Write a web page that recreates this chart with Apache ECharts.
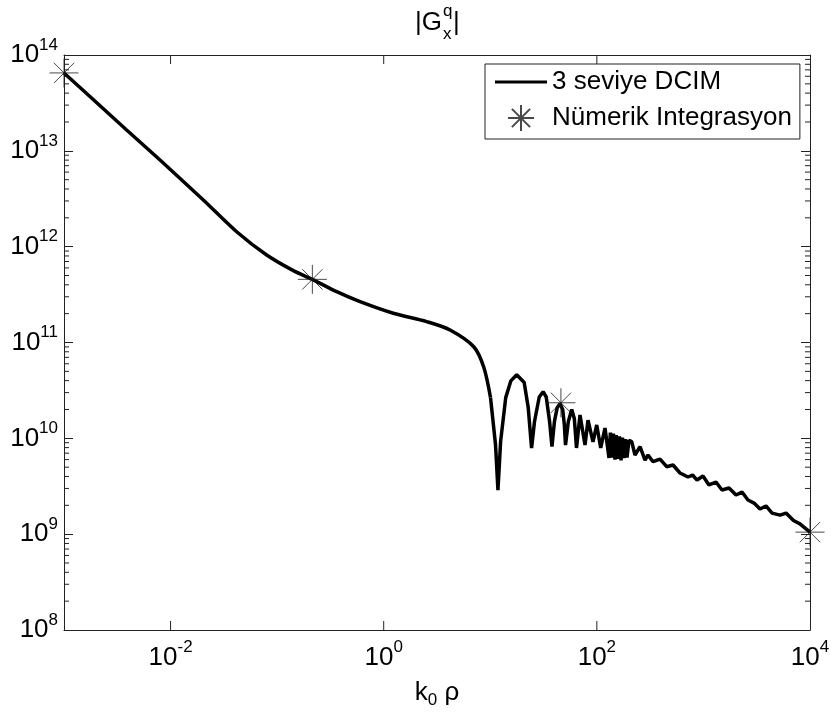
<!DOCTYPE html>
<html><head><meta charset="utf-8">
<script src="https://cdn.jsdelivr.net/npm/echarts@6/dist/echarts.min.js"></script>
<style>html,body{margin:0;padding:0;background:#fff}#c{width:831px;height:715px}</style>
</head><body><div id="c"></div>
<script>
const FONT = '"Liberation Sans", Arial, Helvetica, sans-serif';
const seriesNames = ['3 seviye DCIM', 'Nümerik Integrasyon'];
const xMin = 1e-3, xMax = 1e4, yMin = 1e8, yMax = 1e14;

// 3 seviye DCIM curve, smooth part
const dcimSmoothX = [1e-3, 1.88e-3, 3.87e-3, 7.96e-3, 0.0203, 0.0417, 0.0798, 0.142, 0.214, 0.362, 0.6, 1.23, 2.53, 4.19, 7.03, 8.69, 10.05];
const dcimSmoothY = [6.5e13, 3.43e13, 1.65e13, 8.02e12, 3.07e12, 1.43e12, 8.18e11, 5.62e11, 4.56e11, 3.39e11, 2.67e11, 2.02e11, 1.65e11, 1.35e11, 8.98e10, 5.51e10, 2.66e10];
// oscillating part
const dcimX = [10.05, 11.2, 11.8, 12.5, 13.96, 15.6, 17.7, 20.8, 22.7, 24.4, 26, 28.8, 31.3, 33.5, 36, 37.9, 40, 42.5, 45.1, 47.8, 49.5, 50.8, 54, 58.1, 61.5, 64.4, 69.5, 77.4, 82.6, 92.0, 99.7, 108.7, 119.2, 130.0, 134, 138.7, 143, 147.9, 152, 157.8, 163, 168.6, 174, 179.9, 186, 191.9, 200, 212.3, 228, 254.1, 283.1, 302, 336.5, 391.7, 451.9, 518.8, 602.6, 716.1, 790.7, 871, 990.8, 1127, 1312, 1493, 1738, 2023, 2301, 2618, 2985, 3396, 3864, 4406, 5236, 5957, 7000, 8054, 10000];
const dcimY = [2.66e10, 8.56e9, 2.88e9, 9.29e9, 2.66e10, 3.98e10, 4.61e10, 3.82e10, 2.09e10, 7.91e9, 1.5e10, 2.7e10, 3.07e10, 2.7e10, 1.5e10, 8.22e9, 1.5e10, 2.1e10, 2.3e10, 2.0e10, 1.4e10, 8.51e9, 1.5e10, 2.0e10, 1.6e10, 7.93e9, 1.75e10, 8.51e9, 1.55e10, 9.16e9, 1.38e10, 7.93e9, 1.28e10, 6.23e9, 1.15e10, 6.3e9, 1.12e10, 6.0e9, 1.08e10, 6.1e9, 1.05e10, 5.9e9, 1.02e10, 6.2e9, 9.8e9, 6.3e9, 9.5e9, 9.23e9, 6.7e9, 8.18e9, 5.94e9, 6.7e9, 5.7e9, 6.08e9, 5.06e9, 5.27e9, 4.35e9, 3.95e9, 4.14e9, 3.67e9, 4.05e9, 3.26e9, 3.5e9, 2.89e9, 3.03e9, 2.56e9, 2.75e9, 2.27e9, 2.11e9, 1.83e9, 1.97e9, 1.66e9, 1.58e9, 1.66e9, 1.39e9, 1.28e9, 1.05e9];

// Nümerik Integrasyon points
const numX = [1e-3, 0.214, 46, 1e4];
const numY = [6.5e13, 4.56e11, 2.35e10, 1.05e9];

// tick structure
const xTickVals = [1e-2, 1, 1e2];
const minorMultipliers = [2, 3, 4, 5, 6, 7, 8, 9];
const minorDecades = [8, 9, 10, 11, 12, 13];

const minorTicks = [];
minorDecades.forEach(d => minorMultipliers.forEach(m => minorTicks.push([xMin, m * Math.pow(10, d)])));

const AX = '#222';
const rich = { sup: { fontSize: 17, fontFamily: FONT, color: '#000', padding: [0, 0, 20, 0] } };
function expOf(v) { return Math.round(Math.log10(v)); }
function fmtEven(v) { const e = expOf(v); return (e % 2 === 0) ? '10{sup|' + e + '}' : ''; }
function fmtAll(v) { return '10{sup|' + expOf(v) + '}'; }
const STAR = 'path://M0,-1L0,1M-1,0L1,0M-0.7,-0.7L0.7,0.7M-0.7,0.7L0.7,-0.7';

const chart = echarts.init(document.getElementById('c'), null, { renderer: 'canvas' });
chart.setOption({
  animation: false,
  backgroundColor: '#fff',
  textStyle: { fontFamily: FONT },
  grid: { left: 64, right: 21, top: 55, bottom: 85, containLabel: false, outerBoundsMode: 'none' },
  graphic: [
    { type: 'text', style: { text: '|G', x: 442, y: 23, font: '26px ' + FONT, fill: '#000', textAlign: 'right', textVerticalAlign: 'middle' } },
    { type: 'text', style: { text: 'q', x: 443, y: 11, font: '17px ' + FONT, fill: '#000', textAlign: 'left', textVerticalAlign: 'middle' } },
    { type: 'text', style: { text: 'x', x: 443, y: 34, font: '17px ' + FONT, fill: '#000', textAlign: 'left', textVerticalAlign: 'middle' } },
    { type: 'text', style: { text: '|', x: 453, y: 23, font: '26px ' + FONT, fill: '#000', textAlign: 'left', textVerticalAlign: 'middle' } }
  ],
  legend: {
    left: 485, top: 64, orient: 'vertical', selectedMode: false,
    backgroundColor: '#fff', borderColor: AX, borderWidth: 1, borderRadius: 0,
    padding: [5, 8, 7, 10], itemGap: 9, itemWidth: 52, itemHeight: 26,
    textStyle: { fontSize: 26, fontFamily: FONT, color: '#000', lineHeight: 26 },
    data: [
      { name: seriesNames[0], icon: 'path://M0,0L52,0L52,3.2L0,3.2Z', itemStyle: { color: '#000' } },
      { name: seriesNames[1] }
    ]
  },
  xAxis: [{
    type: 'log', logBase: 10, min: xMin, max: xMax, interval: 1, position: 'bottom',
    axisLine: { lineStyle: { color: AX, width: 1 } },
    axisTick: { show: false },
    splitLine: { show: false }, minorTick: { show: false },
    axisLabel: { margin: 9, fontSize: 26, fontFamily: FONT, color: '#000', formatter: fmtEven, rich: rich },
    name: 'k{sub|0} ρ', nameLocation: 'middle', nameGap: 46,
    nameTextStyle: { fontSize: 26, fontFamily: FONT, color: '#000', rich: { sub: { fontSize: 17, fontFamily: FONT, color: '#000', padding: [16, 0, 0, 0] } } }
  }, {
    type: 'log', logBase: 10, min: xMin, max: xMax, interval: 1, position: 'top',
    axisLine: { lineStyle: { color: AX, width: 1 } },
    axisTick: { show: false },
    splitLine: { show: false }, axisLabel: { show: false }
  }],
  yAxis: [{
    type: 'log', logBase: 10, min: yMin, max: yMax, interval: 1, position: 'left',
    axisLine: { lineStyle: { color: AX, width: 1 } },
    axisTick: { inside: true, length: 9, lineStyle: { color: AX } },
    splitLine: { show: false },
    axisLabel: { margin: 6, fontSize: 26, fontFamily: FONT, color: '#000', formatter: fmtAll, rich: rich }
  }, {
    type: 'log', logBase: 10, min: yMin, max: yMax, interval: 1, position: 'right',
    axisLine: { lineStyle: { color: AX, width: 1 } },
    axisTick: { inside: true, length: 9, lineStyle: { color: AX } },
    splitLine: { show: false }, axisLabel: { show: false }
  }],
  series: [{
    name: seriesNames[0], type: 'line', xAxisIndex: 0, yAxisIndex: 0,
    data: dcimSmoothX.map((x, i) => [x, dcimSmoothY[i]]),
    symbol: 'none', showSymbol: false, smooth: 0.3,
    lineStyle: { color: '#000', width: 3.5 }, itemStyle: { color: '#000' },
    emphasis: { disabled: true }, z: 3
  }, {
    name: seriesNames[0], type: 'line', xAxisIndex: 0, yAxisIndex: 0,
    data: dcimX.map((x, i) => [x, dcimY[i]]),
    symbol: 'none', showSymbol: false, smooth: false,
    lineStyle: { color: '#000', width: 3.5 }, itemStyle: { color: '#000' },
    emphasis: { disabled: true }, z: 3
  }, {
    name: seriesNames[1], type: 'scatter', xAxisIndex: 0, yAxisIndex: 0,
    data: numX.map((x, i) => [x, numY[i]]),
    symbol: STAR, symbolSize: 29,
    itemStyle: { color: 'rgba(0,0,0,0)', borderColor: '#1a1a1a', borderWidth: 1 },
    emphasis: { disabled: true }, z: 4
  }, {
    type: 'custom', xAxisIndex: 0, yAxisIndex: 0, silent: true,
    data: minorTicks, encode: { x: 0, y: 1 },
    renderItem: function (params, api) {
      const y = api.coord([xMin, api.value(1)])[1];
      const cs = params.coordSys;
      const L = cs.x, R = cs.x + cs.width;
      return { type: 'group', children: [
        { type: 'line', shape: { x1: L, y1: y, x2: L + 5, y2: y }, style: { stroke: AX, lineWidth: 1 } },
        { type: 'line', shape: { x1: R, y1: y, x2: R - 5, y2: y }, style: { stroke: AX, lineWidth: 1 } }
      ] };
    }
  }, {
    type: 'custom', xAxisIndex: 0, yAxisIndex: 0, silent: true,
    data: xTickVals.map(v => [v, yMin]), encode: { x: 0, y: 1 },
    renderItem: function (params, api) {
      const x = api.coord([api.value(0), yMin])[0];
      const cs = params.coordSys;
      const T = cs.y, B = cs.y + cs.height;
      return { type: 'group', children: [
        { type: 'line', shape: { x1: x, y1: B, x2: x, y2: B - 9 }, style: { stroke: AX, lineWidth: 1 } },
        { type: 'line', shape: { x1: x, y1: T, x2: x, y2: T + 9 }, style: { stroke: AX, lineWidth: 1 } }
      ] };
    }
  }]
});
</script>
</body></html>
